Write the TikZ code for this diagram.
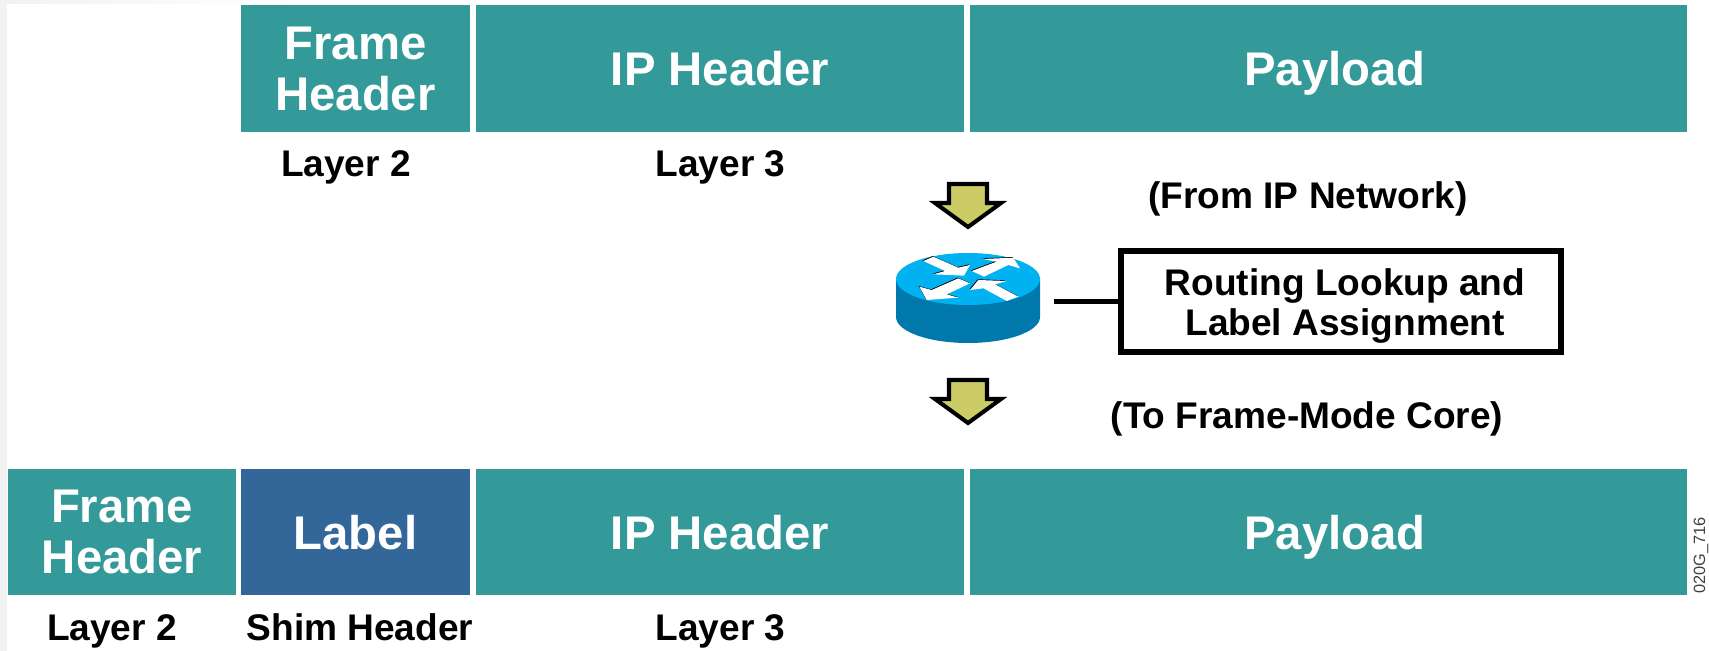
\documentclass[tikz,border=0pt]{standalone}
\usepackage{fontspec}
\setmainfont{Liberation Sans}
\definecolor{fieldteal}{HTML}{349999}
\definecolor{fieldblue}{HTML}{336699}
\definecolor{arrowolive}{HTML}{CCCC66}
\definecolor{routertop}{HTML}{00B2F2}
\definecolor{routerside}{HTML}{0078AB}
\definecolor{edgegray}{HTML}{F2F2F2}
\tikzset{
    field/.style={fill=#1,text=white,inner sep=0pt,minimum height=25.4mm,align=center,text depth=0pt,
        font=\fontsize{26.9}{28.8}\selectfont\bfseries},
    caption/.style={anchor=base,inner sep=0pt,font=\fontsize{21.1}{22.7}\selectfont\bfseries},
    downarrow/.style={draw=black,line width=2.3pt,fill=arrowolive,miter limit=10},
    routerarrow/.style={fill=white},
    routershadow/.style={fill=black}
}
\begin{document}
\begin{tikzpicture}[x=0.02cm,y=-0.02cm]
    \useasboundingbox (0,0) rectangle (1709,651);
    %% faint page edge
    \fill[edgegray] (0,0) rectangle (7,651);
    \fill[left color=edgegray,right color=white] (7,0) rectangle (300,4);
    %% packet from the IP network
    \node[field=fieldteal,minimum width=45.8mm] (frameA) at (355.5,68.5) {Frame\\Header};
    \node[field=fieldteal,minimum width=97.6mm] (ipA) at (720,68.5) {IP Header};
    \node[field=fieldteal,minimum width=143.4mm] (payloadA) at (1328.5,68.5) {\hspace*{2.6mm}Payload};
    \node[caption] (layerTwoA) at (346,177) {Layer 2};
    \node[caption] (layerThreeA) at (720.5,177) {Layer 3};
    \node[caption] (fromIp) at (1308,209) {(From IP Network)};
    %% packet to the core
    \node[field=fieldteal,minimum width=45.6mm] (frameB) at (122,532) {Frame\\Header};
    \node[field=fieldblue,minimum width=45.8mm] (labelB) at (355.5,532) {Label};
    \node[field=fieldteal,minimum width=97.6mm] (ipB) at (720,532) {IP Header};
    \node[field=fieldteal,minimum width=143.4mm] (payloadB) at (1328.5,532) {\hspace*{2.6mm}Payload};
    \node[caption] (layerTwoB) at (112,640) {Layer 2};
    \node[caption] (shimB) at (360,640) {Shim Header};
    \node[caption] (layerThreeB) at (720.5,640) {Layer 3};
    \node[caption] (toCore) at (1307,428) {(To Frame-Mode Core)};
    %% arrows above and below the router
    \foreach \y in {184,380}
        \draw[downarrow] (949,\y) -- (987,\y) -- (987,\y+19) -- (1001,\y+19)
            -- (968,\y+43) -- (935,\y+19) -- (949,\y+19) -- cycle;
    %% router
    \coordinate (router) at (968,279);
    \fill[routerside] (896,279) -- (896,317) arc[start angle=180,end angle=360,x radius=72,y radius=-26]
        -- (1040,279) -- cycle;
    \fill[routertop] (router) ellipse[x radius=72,y radius=26];
    \begin{scope}[shift={(890,245)},scale=0.3333]
        \foreach \dx/\kind in {-2/routershadow,0/routerarrow} {
            \begin{scope}[shift={(\dx,\dx)}]
                \fill[\kind] (100,48) -- (130,35) -- (205,68) -- (240,60) -- (222,92) -- (130,88) -- (165,78) -- cycle;
                \fill[\kind] (245,78) -- (320,50) -- (278,42) -- (370,38) -- (390,70) -- (355,60) -- (282,95) -- cycle;
                \fill[\kind] (205,100) -- (240,115) -- (170,148) -- (205,158) -- (110,165) -- (88,125) -- (125,135) -- cycle;
                \fill[\kind] (240,135) -- (265,105) -- (350,108) -- (315,118) -- (385,155) -- (350,168) -- (280,130) -- cycle;
            \end{scope}
        }
    \end{scope}
    %% lookup box and its wire
    \node[draw=black,line width=3.4pt,minimum width=88mm,minimum height=20.2mm,inner sep=0pt,align=center,
        font=\fontsize{21.1}{22.7}\selectfont\bfseries] (lookup) at (1341,301.5)
        {\rule{0pt}{20pt}\hspace*{1.6mm}Routing Lookup and\\\hspace*{1.6mm}Label Assignment};
    \coordinate (routerPort) at (1054,301.5);
    \draw[line width=3.4pt] (routerPort) -- (lookup);
    %% drawing number
    \node[rotate=90,anchor=west,inner sep=0pt,text=black!75,font=\fontsize{9.3}{11}\selectfont] (drawingNo) at (1701,594) {020G\_716};
\end{tikzpicture}
\end{document}
